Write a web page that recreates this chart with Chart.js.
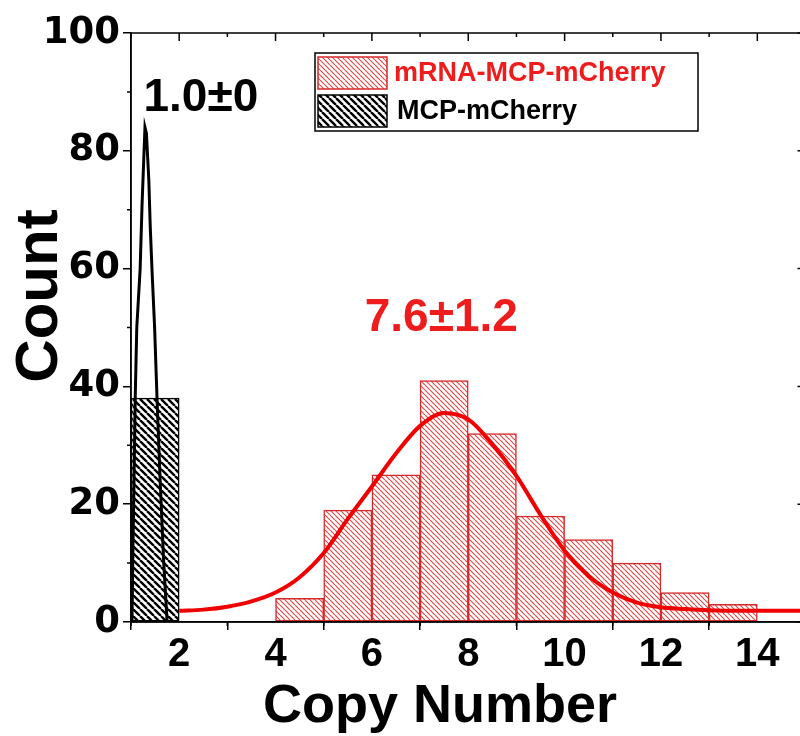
<!DOCTYPE html>
<html>
<head>
<meta charset="utf-8">
<script src="https://cdn.jsdelivr.net/npm/chart.js@4.4.0/dist/chart.umd.min.js"></script>
<style>
  html, body { margin: 0; padding: 0; background: #fff; overflow: hidden; }
  canvas { display: block; }
</style>
</head>
<body>
<canvas id="histChart" width="812" height="736"></canvas>
<script>
// histogram bins (left edge, width 1) and counts
const mcpBins = [1];
const mcpCounts = [38];
const mrnaBins = [4, 5, 6, 7, 8, 9, 10, 11, 12, 13];
const mrnaCounts = [4, 19, 25, 41, 32, 18, 14, 10, 5, 3];

// fitted curves
const mcpFitX = [1.02, 1.04, 1.07, 1.09, 1.12, 1.19, 1.23, 1.29, 1.32, 1.37, 1.40, 1.44, 1.49, 1.54, 1.60, 1.68, 1.75];
const mcpFitY = [0, 12, 28, 39, 50, 60, 71, 84, 83, 75, 67, 59, 50, 38, 25, 10, 0];
const mrnaFitX = [2, 2.5, 3, 3.5, 4, 4.5, 5, 5.5, 6, 6.5, 7, 7.5, 8, 8.5, 9, 9.5, 10, 10.5, 11, 11.5, 12, 12.5, 13, 13.5, 14, 14.5, 15];
const mrnaFitY = [1.9, 2.1, 2.6, 3.5, 5.0, 7.6, 11.7, 17.5, 23, 28.6, 33.3, 35.5, 34.4, 30.2, 24.8, 18.2, 12.1, 7.8, 5.0, 3.3, 2.5, 2.2, 2.0, 1.9, 1.9, 1.9, 1.9];

// axes
const xTicks = [2, 4, 6, 8, 10, 12, 14];
const xMinorTicks = [1, 3, 5, 7, 9, 11, 13, 15];
const yTicks = [0, 20, 40, 60, 80, 100];
const yMinorTicks = [10, 30, 50, 70, 90];

const labels = ['mRNA-MCP-mCherry', 'MCP-mCherry'];
const fitTexts = ['1.0±0', '7.6±1.2'];

const RED = '#ee1c1c';
const BOLD = '"Liberation Sans", Arial, sans-serif';

// diagonal hatch fill ("\\\\")
function hatch(color, size, lw) {
  const c = document.createElement('canvas');
  c.width = c.height = size;
  const g = c.getContext('2d');
  g.fillStyle = '#fff';
  g.fillRect(0, 0, size, size);
  g.strokeStyle = color;
  g.lineWidth = lw;
  g.beginPath();
  for (let k = -1; k <= 1; k++) {
    g.moveTo(k * size, 0);
    g.lineTo(k * size + size, size);
  }
  g.stroke();
  return g.createPattern(c, 'repeat');
}

const blackHatch = hatch('#000', 7, 2.4);
const redHatch = hatch('rgba(215,30,30,0.8)', 5, 1.2);

const toBars = (bins, counts) => bins.map((b, i) => ({ x: b + 0.5, y: counts[i] }));
const toLine = (xs, ys) => xs.map((x, i) => ({ x, y: ys[i] }));

// frame, minor ticks, legend, annotations and axis titles
const decorations = {
  id: 'decorations',
  afterDraw(chart) {
    const { ctx, chartArea: a, scales: { x, y } } = chart;
    ctx.save();
    ctx.strokeStyle = '#000';
    ctx.lineWidth = 1.5;
    ctx.strokeRect(a.left, a.top, a.right - a.left, a.bottom - a.top);

    ctx.beginPath();
    const xAll = xTicks.map(v => [v, 8]).concat(xMinorTicks.map(v => [v, 4]));
    xAll.forEach(([v, len]) => {
      const px = x.getPixelForValue(v);
      ctx.moveTo(px, a.top); ctx.lineTo(px, a.top + len);
      if (len === 4) { ctx.moveTo(px, a.bottom); ctx.lineTo(px, a.bottom + len); }
    });
    const yAll = yTicks.map(v => [v, 8]).concat(yMinorTicks.map(v => [v, 4]));
    yAll.forEach(([v, len]) => {
      const py = y.getPixelForValue(v);
      ctx.moveTo(a.right, py); ctx.lineTo(a.right - len, py);
      if (len === 4) { ctx.moveTo(a.left, py); ctx.lineTo(a.left - len, py); }
    });
    ctx.stroke();

    // legend
    ctx.fillStyle = '#fff';
    ctx.fillRect(315, 53, 383, 78);
    ctx.strokeRect(315, 53, 383, 78);
    const fills = [redHatch, blackHatch];
    const edges = ['#d42a2a', '#000'];
    const colors = [RED, '#000'];
    labels.forEach((t, i) => {
      const top = 57 + i * 38;
      ctx.fillStyle = fills[i];
      ctx.fillRect(318, top, 69, 32);
      ctx.strokeStyle = edges[i];
      ctx.lineWidth = 1.5;
      ctx.strokeRect(318, top, 69, 32);
      ctx.fillStyle = colors[i];
      ctx.font = 'bold 27px ' + BOLD;
      ctx.textAlign = 'left';
      ctx.textBaseline = 'middle';
      ctx.fillText(t, 394 + i * 3, top + 17);
    });

    // fit results
    ctx.font = 'bold 46px ' + BOLD;
    ctx.textAlign = 'center';
    ctx.textBaseline = 'middle';
    ctx.fillStyle = '#000';
    ctx.fillText(fitTexts[0], x.getPixelForValue(2.45), y.getPixelForValue(88.9));
    ctx.fillStyle = RED;
    ctx.fillText(fitTexts[1], x.getPixelForValue(7.44), y.getPixelForValue(51.5));

    // axis titles
    ctx.fillStyle = '#000';
    ctx.font = 'bold 54px ' + BOLD;
    ctx.textBaseline = 'alphabetic';
    ctx.fillText('Copy Number', 440, 722);
    ctx.save();
    ctx.translate(40, 296);
    ctx.rotate(-Math.PI / 2);
    ctx.font = 'bold 60px ' + BOLD;
    ctx.textBaseline = 'middle';
    ctx.fillText('Count', 0, 0);
    ctx.restore();
    ctx.restore();
  }
};

new Chart(document.getElementById('histChart'), {
  type: 'scatter',
  data: {
    datasets: [
      {
        type: 'bar', label: labels[1], data: toBars(mcpBins, mcpCounts),
        backgroundColor: blackHatch, borderColor: '#000', borderWidth: 1.5,
        borderSkipped: false, grouped: false, barPercentage: 1, categoryPercentage: 1, order: 2
      },
      {
        type: 'bar', label: labels[0], data: toBars(mrnaBins, mrnaCounts),
        backgroundColor: redHatch, borderColor: '#d42a2a', borderWidth: 1.5,
        borderSkipped: false, grouped: false, barPercentage: 1, categoryPercentage: 1, order: 2
      },
      {
        type: 'line', label: 'MCP fit', data: toLine(mcpFitX, mcpFitY),
        borderColor: '#000', borderWidth: 3, pointRadius: 0, tension: 0, order: 1
      },
      {
        type: 'line', label: 'mRNA fit', data: toLine(mrnaFitX, mrnaFitY),
        borderColor: '#f00000', borderWidth: 4, pointRadius: 0, tension: 0.4,
        cubicInterpolationMode: 'monotone', order: 1
      }
    ]
  },
  options: {
    responsive: false,
    animation: false,
    devicePixelRatio: 1,
    layout: { padding: { top: 33, right: 6.5, left: 0, bottom: 0 } },
    plugins: { legend: { display: false }, tooltip: { enabled: false } },
    scales: {
      x: {
        type: 'linear', min: 1, max: 15, offset: false,
        afterBuildTicks: s => { s.ticks = xTicks.map(v => ({ value: v })); },
        afterFit: s => { s.height = 114; },
        grid: { display: true, drawOnChartArea: false, tickLength: 8, color: '#000', lineWidth: 1.5 },
        border: { display: true, color: '#000', width: 1.5 },
        ticks: {
          color: '#000', padding: 1, maxRotation: 0, autoSkip: false,
          font: { family: '"Liberation Sans Narrow", "Liberation Sans", sans-serif', size: 40, weight: 'bold' }
        }
      },
      y: {
        type: 'linear', min: 0, max: 100,
        afterBuildTicks: s => { s.ticks = yTicks.map(v => ({ value: v })); },
        afterFit: s => { s.width = 131; },
        grid: { display: true, drawOnChartArea: false, tickLength: 8, color: '#000', lineWidth: 1.5 },
        border: { display: true, color: '#000', width: 1.5 },
        ticks: {
          color: '#000', padding: 3,
          font: { family: '"DejaVu Sans", sans-serif', size: 37, weight: 'bold' }
        }
      }
    }
  },
  plugins: [decorations]
});
</script>
</body>
</html>
